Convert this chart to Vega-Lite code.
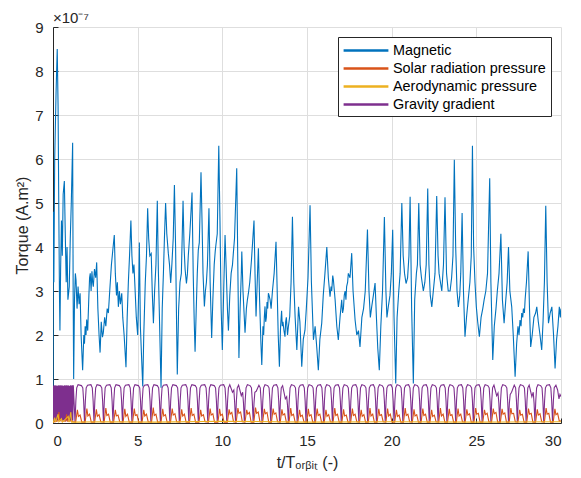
{
  "$schema": "https://vega.github.io/schema/vega-lite/v6.json",
  "width": 508,
  "height": 396,
  "autosize": {"type": "none"},
  "padding": {"left": 53, "top": 27, "right": 20, "bottom": 55},
  "background": "white",
  "title": {"text": "×10⁻⁷", "anchor": "start", "frame": "group", "fontSize": 15, "fontWeight": "normal", "color": "#262626", "offset": -6, "font": "Liberation Sans"},
  "datasets": {
    "mag": [
      {"t":0.00,"v":0.0},{"t":0.02,"v":4.8},{"t":0.05,"v":3.2},{"t":0.10,"v":6.0},{"t":0.18,"v":7.5},{"t":0.25,"v":8.5},{"t":0.30,"v":7.2},{"t":0.34,"v":5.0},{"t":0.38,"v":3.0},{"t":0.41,"v":2.1},{"t":0.45,"v":3.5},{"t":0.50,"v":4.6},{"t":0.55,"v":3.8},{"t":0.60,"v":5.2},{"t":0.67,"v":5.5},{"t":0.72,"v":4.4},{"t":0.78,"v":3.2},{"t":0.83,"v":4.0},{"t":0.88,"v":2.8},{"t":0.96,"v":3.1},{"t":1.02,"v":4.2},{"t":1.08,"v":5.0},{"t":1.16,"v":6.37},{"t":1.19,"v":3.0},{"t":1.22,"v":1.0},{"t":1.27,"v":2.8},{"t":1.32,"v":3.4},{"t":1.36,"v":3.25},{"t":1.42,"v":2.6},{"t":1.48,"v":3.1},{"t":1.54,"v":2.7},{"t":1.60,"v":2.95},{"t":1.66,"v":2.0},{"t":1.75,"v":1.2},{"t":1.82,"v":2.0},{"t":1.86,"v":1.8},{"t":1.90,"v":2.2},{"t":1.95,"v":2.0},{"t":1.99,"v":2.35},{"t":2.05,"v":2.1},{"t":2.12,"v":2.9},{"t":2.16,"v":3.3},{"t":2.20,"v":3.4},{"t":2.25,"v":3.0},{"t":2.30,"v":3.45},{"t":2.34,"v":3.2},{"t":2.38,"v":3.1},{"t":2.45,"v":3.5},{"t":2.52,"v":3.3},{"t":2.58,"v":3.65},{"t":2.65,"v":2.6},{"t":2.72,"v":2.0},{"t":2.78,"v":1.6},{"t":2.85,"v":2.3},{"t":2.92,"v":1.95},{"t":2.97,"v":2.05},{"t":3.05,"v":2.4},{"t":3.12,"v":2.2},{"t":3.20,"v":2.6},{"t":3.27,"v":2.5},{"t":3.35,"v":3.0},{"t":3.45,"v":3.6},{"t":3.55,"v":4.0},{"t":3.62,"v":4.27},{"t":3.68,"v":3.4},{"t":3.75,"v":2.9},{"t":3.80,"v":3.2},{"t":3.86,"v":2.64},{"t":3.92,"v":3.0},{"t":3.98,"v":2.7},{"t":4.06,"v":2.95},{"t":4.12,"v":2.4},{"t":4.20,"v":2.0},{"t":4.31,"v":1.27},{"t":4.38,"v":2.4},{"t":4.45,"v":3.2},{"t":4.52,"v":3.8},{"t":4.60,"v":4.6},{"t":4.66,"v":3.8},{"t":4.72,"v":3.4},{"t":4.78,"v":3.6},{"t":4.84,"v":3.1},{"t":4.92,"v":2.4},{"t":5.00,"v":2.0},{"t":5.06,"v":3.0},{"t":5.10,"v":4.1},{"t":5.16,"v":2.2},{"t":5.22,"v":1.6},{"t":5.30,"v":0.83},{"t":5.36,"v":2.0},{"t":5.45,"v":3.2},{"t":5.52,"v":3.8},{"t":5.59,"v":4.88},{"t":5.65,"v":4.2},{"t":5.72,"v":3.8},{"t":5.80,"v":3.85},{"t":5.86,"v":3.0},{"t":5.93,"v":2.27},{"t":6.00,"v":3.0},{"t":6.08,"v":3.6},{"t":6.16,"v":5.05},{"t":6.22,"v":3.5},{"t":6.28,"v":2.5},{"t":6.38,"v":0.8},{"t":6.45,"v":2.6},{"t":6.52,"v":3.4},{"t":6.58,"v":4.2},{"t":6.65,"v":5.0},{"t":6.72,"v":4.3},{"t":6.81,"v":3.86},{"t":6.88,"v":3.6},{"t":6.95,"v":3.18},{"t":7.02,"v":3.6},{"t":7.10,"v":4.2},{"t":7.17,"v":5.41},{"t":7.24,"v":4.0},{"t":7.30,"v":2.2},{"t":7.34,"v":1.1},{"t":7.42,"v":2.6},{"t":7.50,"v":3.2},{"t":7.58,"v":3.4},{"t":7.68,"v":5.05},{"t":7.74,"v":4.0},{"t":7.80,"v":3.5},{"t":7.88,"v":3.17},{"t":7.94,"v":3.4},{"t":7.99,"v":3.8},{"t":8.08,"v":4.3},{"t":8.21,"v":5.24},{"t":8.28,"v":3.4},{"t":8.34,"v":2.3},{"t":8.39,"v":1.62},{"t":8.46,"v":2.6},{"t":8.52,"v":3.4},{"t":8.58,"v":3.93},{"t":8.64,"v":4.1},{"t":8.74,"v":5.7},{"t":8.80,"v":4.6},{"t":8.86,"v":3.4},{"t":8.94,"v":2.65},{"t":9.00,"v":3.0},{"t":9.06,"v":3.2},{"t":9.12,"v":3.6},{"t":9.21,"v":4.88},{"t":9.28,"v":3.2},{"t":9.37,"v":1.93},{"t":9.44,"v":2.8},{"t":9.52,"v":3.6},{"t":9.58,"v":3.9},{"t":9.63,"v":4.08},{"t":9.70,"v":4.3},{"t":9.79,"v":6.3},{"t":9.86,"v":4.6},{"t":9.93,"v":2.6},{"t":10.00,"v":1.66},{"t":10.08,"v":3.0},{"t":10.16,"v":4.27},{"t":10.22,"v":3.6},{"t":10.30,"v":2.6},{"t":10.36,"v":2.1},{"t":10.44,"v":2.9},{"t":10.52,"v":3.4},{"t":10.60,"v":3.6},{"t":10.65,"v":3.86},{"t":10.72,"v":4.2},{"t":10.85,"v":5.79},{"t":10.92,"v":3.4},{"t":10.98,"v":1.48},{"t":11.05,"v":2.6},{"t":11.12,"v":3.4},{"t":11.15,"v":3.9},{"t":11.22,"v":3.0},{"t":11.34,"v":2.05},{"t":11.42,"v":2.6},{"t":11.48,"v":2.8},{"t":11.54,"v":2.95},{"t":11.62,"v":3.2},{"t":11.72,"v":3.7},{"t":11.87,"v":4.6},{"t":11.93,"v":3.4},{"t":11.99,"v":2.42},{"t":12.06,"v":3.2},{"t":12.13,"v":3.97},{"t":12.20,"v":2.8},{"t":12.28,"v":1.8},{"t":12.33,"v":1.32},{"t":12.40,"v":2.2},{"t":12.44,"v":2.0},{"t":12.48,"v":2.4},{"t":12.52,"v":2.65},{"t":12.56,"v":2.3},{"t":12.60,"v":2.4},{"t":12.64,"v":2.75},{"t":12.68,"v":2.6},{"t":12.72,"v":2.95},{"t":12.76,"v":2.9},{"t":12.82,"v":2.8},{"t":12.88,"v":2.6},{"t":12.96,"v":3.0},{"t":13.06,"v":3.4},{"t":13.17,"v":4.12},{"t":13.24,"v":3.0},{"t":13.30,"v":2.0},{"t":13.37,"v":1.28},{"t":13.44,"v":2.2},{"t":13.50,"v":2.55},{"t":13.54,"v":2.2},{"t":13.58,"v":2.3},{"t":13.64,"v":2.1},{"t":13.70,"v":1.96},{"t":13.74,"v":2.3},{"t":13.78,"v":2.4},{"t":13.85,"v":2.0},{"t":13.90,"v":2.19},{"t":13.98,"v":2.42},{"t":14.06,"v":3.2},{"t":14.14,"v":4.69},{"t":14.22,"v":3.2},{"t":14.30,"v":2.4},{"t":14.40,"v":1.66},{"t":14.50,"v":2.64},{"t":14.58,"v":2.3},{"t":14.69,"v":1.28},{"t":14.78,"v":1.9},{"t":14.88,"v":2.11},{"t":14.96,"v":2.6},{"t":15.06,"v":3.3},{"t":15.18,"v":4.95},{"t":15.26,"v":3.2},{"t":15.38,"v":1.89},{"t":15.48,"v":2.2},{"t":15.58,"v":1.7},{"t":15.67,"v":1.2},{"t":15.76,"v":1.9},{"t":15.87,"v":2.27},{"t":15.96,"v":2.9},{"t":16.06,"v":3.4},{"t":16.17,"v":4.0},{"t":16.26,"v":3.3},{"t":16.36,"v":2.87},{"t":16.42,"v":3.1},{"t":16.46,"v":3.0},{"t":16.52,"v":3.35},{"t":16.56,"v":3.25},{"t":16.66,"v":2.8},{"t":16.76,"v":2.2},{"t":16.85,"v":1.89},{"t":16.95,"v":2.4},{"t":17.05,"v":2.8},{"t":17.10,"v":2.5},{"t":17.15,"v":2.6},{"t":17.20,"v":2.9},{"t":17.25,"v":3.0},{"t":17.30,"v":2.8},{"t":17.34,"v":3.1},{"t":17.40,"v":3.2},{"t":17.44,"v":3.4},{"t":17.54,"v":3.3},{"t":17.64,"v":3.86},{"t":17.72,"v":3.0},{"t":17.84,"v":2.34},{"t":17.94,"v":2.0},{"t":18.04,"v":2.1},{"t":18.13,"v":1.73},{"t":18.24,"v":2.4},{"t":18.34,"v":2.6},{"t":18.44,"v":3.0},{"t":18.57,"v":4.4},{"t":18.66,"v":3.0},{"t":18.74,"v":2.4},{"t":18.82,"v":2.64},{"t":18.92,"v":2.9},{"t":19.02,"v":3.18},{"t":19.10,"v":2.4},{"t":19.18,"v":1.7},{"t":19.27,"v":1.2},{"t":19.36,"v":2.2},{"t":19.46,"v":3.0},{"t":19.57,"v":4.68},{"t":19.66,"v":3.0},{"t":19.72,"v":2.4},{"t":19.80,"v":2.64},{"t":19.90,"v":2.9},{"t":19.98,"v":3.4},{"t":20.06,"v":4.39},{"t":20.14,"v":2.4},{"t":20.24,"v":0.9},{"t":20.32,"v":2.4},{"t":20.42,"v":3.0},{"t":20.50,"v":3.4},{"t":20.60,"v":5.0},{"t":20.68,"v":3.8},{"t":20.76,"v":3.4},{"t":20.85,"v":3.17},{"t":20.94,"v":3.3},{"t":21.02,"v":3.8},{"t":21.09,"v":5.14},{"t":21.18,"v":2.6},{"t":21.28,"v":0.9},{"t":21.36,"v":2.8},{"t":21.46,"v":3.4},{"t":21.52,"v":3.6},{"t":21.60,"v":5.0},{"t":21.68,"v":3.6},{"t":21.76,"v":3.3},{"t":21.87,"v":3.0},{"t":21.96,"v":3.2},{"t":22.04,"v":3.6},{"t":22.13,"v":5.33},{"t":22.20,"v":3.6},{"t":22.28,"v":2.9},{"t":22.37,"v":2.64},{"t":22.46,"v":3.0},{"t":22.56,"v":3.4},{"t":22.66,"v":5.16},{"t":22.74,"v":3.8},{"t":22.80,"v":3.4},{"t":22.86,"v":3.25},{"t":22.96,"v":3.0},{"t":23.06,"v":3.6},{"t":23.15,"v":5.13},{"t":23.24,"v":3.4},{"t":23.34,"v":3.0},{"t":23.45,"v":3.0},{"t":23.54,"v":3.3},{"t":23.62,"v":3.8},{"t":23.70,"v":5.98},{"t":23.78,"v":4.0},{"t":23.86,"v":3.0},{"t":23.94,"v":2.64},{"t":24.02,"v":2.9},{"t":24.08,"v":3.4},{"t":24.16,"v":4.77},{"t":24.24,"v":3.0},{"t":24.33,"v":1.96},{"t":24.42,"v":2.4},{"t":24.52,"v":2.8},{"t":24.62,"v":3.2},{"t":24.70,"v":3.8},{"t":24.77,"v":6.3},{"t":24.84,"v":4.0},{"t":24.92,"v":3.2},{"t":25.00,"v":2.64},{"t":25.08,"v":2.3},{"t":25.18,"v":1.96},{"t":25.28,"v":2.4},{"t":25.38,"v":2.6},{"t":25.46,"v":2.8},{"t":25.56,"v":3.0},{"t":25.66,"v":3.4},{"t":25.79,"v":5.56},{"t":25.86,"v":3.2},{"t":25.97,"v":1.43},{"t":26.06,"v":2.2},{"t":26.16,"v":2.6},{"t":26.24,"v":3.0},{"t":26.34,"v":3.4},{"t":26.45,"v":4.3},{"t":26.54,"v":2.8},{"t":26.64,"v":2.27},{"t":26.74,"v":2.8},{"t":26.82,"v":3.2},{"t":26.90,"v":4.0},{"t":26.98,"v":3.0},{"t":27.09,"v":2.64},{"t":27.18,"v":2.0},{"t":27.29,"v":1.05},{"t":27.38,"v":1.8},{"t":27.46,"v":2.2},{"t":27.52,"v":2.0},{"t":27.58,"v":2.34},{"t":27.64,"v":2.2},{"t":27.68,"v":2.5},{"t":27.74,"v":2.4},{"t":27.78,"v":2.6},{"t":27.84,"v":2.5},{"t":27.88,"v":2.8},{"t":27.96,"v":3.2},{"t":28.06,"v":3.9},{"t":28.14,"v":2.6},{"t":28.21,"v":1.73},{"t":28.30,"v":2.0},{"t":28.40,"v":2.4},{"t":28.50,"v":2.5},{"t":28.57,"v":2.64},{"t":28.66,"v":2.3},{"t":28.76,"v":2.0},{"t":28.86,"v":1.66},{"t":28.94,"v":2.3},{"t":29.02,"v":3.2},{"t":29.10,"v":4.94},{"t":29.18,"v":3.2},{"t":29.26,"v":2.27},{"t":29.36,"v":2.5},{"t":29.46,"v":2.64},{"t":29.56,"v":2.0},{"t":29.65,"v":1.24},{"t":29.74,"v":1.9},{"t":29.82,"v":2.2},{"t":29.90,"v":2.64},{"t":29.96,"v":2.4},{"t":30.00,"v":2.6}
    ],
    "grav": [
      {"t":0.00,"v":0.84},{"t":0.03,"v":0.06},{"t":0.06,"v":0.86},{"t":0.09,"v":0.05},{"t":0.12,"v":0.85},{"t":0.15,"v":0.07},{"t":0.18,"v":0.86},{"t":0.21,"v":0.05},{"t":0.24,"v":0.84},{"t":0.27,"v":0.06},{"t":0.30,"v":0.86},{"t":0.33,"v":0.05},{"t":0.36,"v":0.85},{"t":0.39,"v":0.06},{"t":0.42,"v":0.86},{"t":0.45,"v":0.05},{"t":0.48,"v":0.85},{"t":0.51,"v":0.07},{"t":0.54,"v":0.86},{"t":0.57,"v":0.05},{"t":0.60,"v":0.84},{"t":0.63,"v":0.06},{"t":0.66,"v":0.86},{"t":0.69,"v":0.05},{"t":0.72,"v":0.85},{"t":0.75,"v":0.06},{"t":0.78,"v":0.86},{"t":0.81,"v":0.05},{"t":0.84,"v":0.85},{"t":0.87,"v":0.07},{"t":0.90,"v":0.86},{"t":0.93,"v":0.05},{"t":0.96,"v":0.84},{"t":0.99,"v":0.06},{"t":1.02,"v":0.86},{"t":1.05,"v":0.05},{"t":1.08,"v":0.85},{"t":1.11,"v":0.06},{"t":1.14,"v":0.86},{"t":1.17,"v":0.05},{"t":1.20,"v":0.86},
      {"t":1.30,"v":0.02},{"t":1.35,"v":0.5},{"t":1.40,"v":0.8},{"t":1.48,"v":0.87},{"t":1.68,"v":0.85},{"t":1.76,"v":0.8},{"t":1.81,"v":0.5},
      {"t":1.86,"v":0.02},{"t":1.91,"v":0.5},{"t":1.96,"v":0.8},{"t":2.04,"v":0.86},{"t":2.24,"v":0.87},{"t":2.32,"v":0.8},{"t":2.37,"v":0.5},
      {"t":2.42,"v":0.02},{"t":2.47,"v":0.5},{"t":2.52,"v":0.8},{"t":2.60,"v":0.87},{"t":2.80,"v":0.85},{"t":2.88,"v":0.8},{"t":2.93,"v":0.5},
      {"t":2.98,"v":0.02},{"t":3.03,"v":0.5},{"t":3.08,"v":0.8},{"t":3.16,"v":0.86},{"t":3.36,"v":0.87},{"t":3.44,"v":0.8},{"t":3.49,"v":0.5},
      {"t":3.54,"v":0.02},{"t":3.59,"v":0.5},{"t":3.64,"v":0.8},{"t":3.72,"v":0.87},{"t":3.92,"v":0.85},{"t":4.00,"v":0.8},{"t":4.05,"v":0.5},
      {"t":4.10,"v":0.02},{"t":4.15,"v":0.5},{"t":4.20,"v":0.8},{"t":4.28,"v":0.86},{"t":4.48,"v":0.87},{"t":4.56,"v":0.8},{"t":4.61,"v":0.5},
      {"t":4.66,"v":0.02},{"t":4.71,"v":0.5},{"t":4.76,"v":0.8},{"t":4.84,"v":0.87},{"t":5.04,"v":0.85},{"t":5.12,"v":0.8},{"t":5.17,"v":0.5},
      {"t":5.22,"v":0.02},{"t":5.27,"v":0.5},{"t":5.32,"v":0.8},{"t":5.40,"v":0.86},{"t":5.60,"v":0.87},{"t":5.68,"v":0.8},{"t":5.73,"v":0.5},
      {"t":5.78,"v":0.02},{"t":5.83,"v":0.5},{"t":5.88,"v":0.8},{"t":5.96,"v":0.87},{"t":6.16,"v":0.85},{"t":6.24,"v":0.8},{"t":6.29,"v":0.5},
      {"t":6.34,"v":0.02},{"t":6.39,"v":0.5},{"t":6.44,"v":0.8},{"t":6.52,"v":0.86},{"t":6.72,"v":0.87},{"t":6.80,"v":0.8},{"t":6.85,"v":0.5},
      {"t":6.90,"v":0.02},{"t":6.95,"v":0.5},{"t":7.00,"v":0.8},{"t":7.08,"v":0.87},{"t":7.28,"v":0.85},{"t":7.36,"v":0.8},{"t":7.41,"v":0.5},
      {"t":7.46,"v":0.02},{"t":7.51,"v":0.5},{"t":7.56,"v":0.8},{"t":7.64,"v":0.86},{"t":7.84,"v":0.87},{"t":7.92,"v":0.8},{"t":7.97,"v":0.5},
      {"t":8.02,"v":0.02},{"t":8.07,"v":0.5},{"t":8.12,"v":0.8},{"t":8.20,"v":0.87},{"t":8.40,"v":0.85},{"t":8.48,"v":0.8},{"t":8.53,"v":0.5},
      {"t":8.58,"v":0.02},{"t":8.63,"v":0.5},{"t":8.68,"v":0.8},{"t":8.76,"v":0.86},{"t":8.96,"v":0.87},{"t":9.04,"v":0.8},{"t":9.09,"v":0.5},
      {"t":9.14,"v":0.02},{"t":9.19,"v":0.5},{"t":9.24,"v":0.8},{"t":9.32,"v":0.87},{"t":9.52,"v":0.85},{"t":9.60,"v":0.8},{"t":9.65,"v":0.5},
      {"t":9.70,"v":0.02},{"t":9.75,"v":0.5},{"t":9.80,"v":0.8},{"t":9.88,"v":0.86},{"t":10.08,"v":0.87},{"t":10.16,"v":0.8},{"t":10.21,"v":0.5},
      {"t":10.26,"v":0.02},{"t":10.31,"v":0.5},{"t":10.36,"v":0.8},{"t":10.44,"v":0.87},{"t":10.60,"v":0.7},{"t":10.68,"v":0.75},{"t":10.73,"v":0.45},
      {"t":10.78,"v":0.02},{"t":10.83,"v":0.5},{"t":10.88,"v":0.8},{"t":10.96,"v":0.86},{"t":11.12,"v":0.62},{"t":11.20,"v":0.7},{"t":11.25,"v":0.45},
      {"t":11.30,"v":0.02},{"t":11.35,"v":0.5},{"t":11.40,"v":0.8},{"t":11.48,"v":0.87},{"t":11.64,"v":0.85},{"t":11.72,"v":0.8},{"t":11.77,"v":0.5},
      {"t":11.82,"v":0.02},{"t":11.87,"v":0.45},{"t":11.92,"v":0.7},{"t":12.00,"v":0.72},{"t":12.16,"v":0.86},{"t":12.24,"v":0.8},{"t":12.29,"v":0.5},
      {"t":12.34,"v":0.02},{"t":12.39,"v":0.5},{"t":12.44,"v":0.8},{"t":12.52,"v":0.87},{"t":12.68,"v":0.85},{"t":12.76,"v":0.8},{"t":12.81,"v":0.5},
      {"t":12.86,"v":0.02},{"t":12.91,"v":0.5},{"t":12.96,"v":0.8},{"t":13.04,"v":0.86},{"t":13.20,"v":0.87},{"t":13.28,"v":0.8},{"t":13.33,"v":0.5},
      {"t":13.38,"v":0.02},{"t":13.43,"v":0.5},{"t":13.48,"v":0.8},{"t":13.56,"v":0.85},{"t":13.72,"v":0.55},{"t":13.80,"v":0.6},{"t":13.85,"v":0.4},
      {"t":13.90,"v":0.02},{"t":13.95,"v":0.5},{"t":14.00,"v":0.8},{"t":14.08,"v":0.87},{"t":14.24,"v":0.85},{"t":14.32,"v":0.8},{"t":14.37,"v":0.5},
      {"t":14.42,"v":0.02},{"t":14.47,"v":0.5},{"t":14.52,"v":0.8},{"t":14.60,"v":0.86},{"t":14.76,"v":0.87},{"t":14.84,"v":0.8},{"t":14.89,"v":0.5},
      {"t":14.94,"v":0.02},{"t":14.99,"v":0.5},{"t":15.04,"v":0.8},{"t":15.12,"v":0.87},{"t":15.28,"v":0.85},{"t":15.36,"v":0.8},{"t":15.41,"v":0.5},
      {"t":15.46,"v":0.02},{"t":15.51,"v":0.5},{"t":15.56,"v":0.8},{"t":15.64,"v":0.86},{"t":15.80,"v":0.87},{"t":15.88,"v":0.8},{"t":15.93,"v":0.5},
      {"t":15.98,"v":0.02},{"t":16.03,"v":0.5},{"t":16.08,"v":0.8},{"t":16.16,"v":0.87},{"t":16.32,"v":0.85},{"t":16.40,"v":0.8},{"t":16.45,"v":0.5},
      {"t":16.50,"v":0.02},{"t":16.55,"v":0.5},{"t":16.60,"v":0.8},{"t":16.68,"v":0.86},{"t":16.84,"v":0.87},{"t":16.92,"v":0.8},{"t":16.97,"v":0.5},
      {"t":17.02,"v":0.02},{"t":17.07,"v":0.5},{"t":17.12,"v":0.8},{"t":17.20,"v":0.87},{"t":17.36,"v":0.85},{"t":17.44,"v":0.8},{"t":17.49,"v":0.5},
      {"t":17.54,"v":0.02},{"t":17.59,"v":0.5},{"t":17.64,"v":0.8},{"t":17.72,"v":0.86},{"t":17.88,"v":0.87},{"t":17.96,"v":0.8},{"t":18.01,"v":0.5},
      {"t":18.06,"v":0.02},{"t":18.11,"v":0.5},{"t":18.16,"v":0.8},{"t":18.24,"v":0.87},{"t":18.40,"v":0.85},{"t":18.48,"v":0.8},{"t":18.53,"v":0.5},
      {"t":18.58,"v":0.02},{"t":18.63,"v":0.5},{"t":18.68,"v":0.8},{"t":18.76,"v":0.86},{"t":18.92,"v":0.87},{"t":19.00,"v":0.8},{"t":19.05,"v":0.5},
      {"t":19.10,"v":0.02},{"t":19.15,"v":0.5},{"t":19.20,"v":0.8},{"t":19.28,"v":0.87},{"t":19.44,"v":0.85},{"t":19.52,"v":0.8},{"t":19.57,"v":0.5},
      {"t":19.62,"v":0.02},{"t":19.67,"v":0.5},{"t":19.72,"v":0.8},{"t":19.80,"v":0.86},{"t":19.96,"v":0.87},{"t":20.04,"v":0.8},{"t":20.09,"v":0.5},
      {"t":20.14,"v":0.02},{"t":20.19,"v":0.5},{"t":20.24,"v":0.8},{"t":20.32,"v":0.87},{"t":20.48,"v":0.85},{"t":20.56,"v":0.8},{"t":20.61,"v":0.5},
      {"t":20.66,"v":0.02},{"t":20.71,"v":0.5},{"t":20.76,"v":0.8},{"t":20.84,"v":0.86},{"t":21.00,"v":0.87},{"t":21.08,"v":0.8},{"t":21.13,"v":0.5},
      {"t":21.18,"v":0.02},{"t":21.23,"v":0.5},{"t":21.28,"v":0.8},{"t":21.36,"v":0.87},{"t":21.52,"v":0.85},{"t":21.60,"v":0.8},{"t":21.65,"v":0.5},
      {"t":21.70,"v":0.02},{"t":21.75,"v":0.5},{"t":21.80,"v":0.8},{"t":21.88,"v":0.86},{"t":22.04,"v":0.87},{"t":22.12,"v":0.8},{"t":22.17,"v":0.5},
      {"t":22.22,"v":0.02},{"t":22.27,"v":0.5},{"t":22.32,"v":0.8},{"t":22.40,"v":0.87},{"t":22.56,"v":0.85},{"t":22.64,"v":0.8},{"t":22.69,"v":0.5},
      {"t":22.74,"v":0.02},{"t":22.79,"v":0.5},{"t":22.84,"v":0.8},{"t":22.92,"v":0.86},{"t":23.08,"v":0.87},{"t":23.16,"v":0.8},{"t":23.21,"v":0.5},
      {"t":23.26,"v":0.02},{"t":23.31,"v":0.5},{"t":23.36,"v":0.8},{"t":23.44,"v":0.87},{"t":23.60,"v":0.85},{"t":23.68,"v":0.8},{"t":23.73,"v":0.5},
      {"t":23.78,"v":0.02},{"t":23.83,"v":0.5},{"t":23.88,"v":0.8},{"t":23.96,"v":0.86},{"t":24.12,"v":0.87},{"t":24.20,"v":0.8},{"t":24.25,"v":0.5},
      {"t":24.30,"v":0.02},{"t":24.35,"v":0.5},{"t":24.40,"v":0.8},{"t":24.48,"v":0.87},{"t":24.64,"v":0.85},{"t":24.72,"v":0.8},{"t":24.77,"v":0.5},
      {"t":24.82,"v":0.02},{"t":24.87,"v":0.5},{"t":24.92,"v":0.8},{"t":25.00,"v":0.86},{"t":25.16,"v":0.87},{"t":25.24,"v":0.8},{"t":25.29,"v":0.5},
      {"t":25.34,"v":0.02},{"t":25.39,"v":0.5},{"t":25.44,"v":0.8},{"t":25.52,"v":0.87},{"t":25.68,"v":0.85},{"t":25.76,"v":0.8},{"t":25.81,"v":0.5},
      {"t":25.86,"v":0.02},{"t":25.91,"v":0.5},{"t":25.96,"v":0.8},{"t":26.04,"v":0.86},{"t":26.20,"v":0.62},{"t":26.28,"v":0.68},{"t":26.33,"v":0.45},
      {"t":26.38,"v":0.02},{"t":26.43,"v":0.5},{"t":26.48,"v":0.8},{"t":26.56,"v":0.87},{"t":26.72,"v":0.85},{"t":26.80,"v":0.8},{"t":26.85,"v":0.5},
      {"t":26.90,"v":0.02},{"t":26.95,"v":0.45},{"t":27.00,"v":0.65},{"t":27.08,"v":0.7},{"t":27.24,"v":0.86},{"t":27.32,"v":0.8},{"t":27.37,"v":0.5},
      {"t":27.42,"v":0.02},{"t":27.47,"v":0.5},{"t":27.52,"v":0.8},{"t":27.60,"v":0.87},{"t":27.76,"v":0.85},{"t":27.84,"v":0.8},{"t":27.89,"v":0.5},
      {"t":27.94,"v":0.02},{"t":27.99,"v":0.5},{"t":28.04,"v":0.8},{"t":28.12,"v":0.86},{"t":28.28,"v":0.6},{"t":28.36,"v":0.7},{"t":28.41,"v":0.45},
      {"t":28.46,"v":0.02},{"t":28.51,"v":0.5},{"t":28.56,"v":0.8},{"t":28.64,"v":0.87},{"t":28.80,"v":0.85},{"t":28.88,"v":0.8},{"t":28.93,"v":0.5},
      {"t":28.98,"v":0.02},{"t":29.03,"v":0.5},{"t":29.08,"v":0.8},{"t":29.16,"v":0.86},{"t":29.32,"v":0.87},{"t":29.40,"v":0.8},{"t":29.45,"v":0.5},
      {"t":29.50,"v":0.02},{"t":29.55,"v":0.5},{"t":29.60,"v":0.8},{"t":29.70,"v":0.86},{"t":29.80,"v":0.75},{"t":29.88,"v":0.55},{"t":29.94,"v":0.65},{"t":30.00,"v":0.6}
    ],
    "solar": [
      {"t":0.00,"v":0.02},{"t":0.30,"v":0.05},{"t":0.35,"v":0.25},{"t":0.40,"v":0.05},{"t":0.75,"v":0.04},{"t":0.80,"v":0.2},{"t":0.85,"v":0.04},{"t":1.10,"v":0.05},{"t":1.20,"v":0.03},
      {"t":1.34,"v":0.02},{"t":1.44,"v":0.3},{"t":1.50,"v":0.15},{"t":1.60,"v":0.18},{"t":1.70,"v":0.02},
      {"t":1.90,"v":0.02},{"t":2.00,"v":0.33},{"t":2.06,"v":0.16},{"t":2.16,"v":0.2},{"t":2.26,"v":0.02},
      {"t":2.46,"v":0.02},{"t":2.56,"v":0.31},{"t":2.62,"v":0.15},{"t":2.72,"v":0.19},{"t":2.82,"v":0.03},
      {"t":3.02,"v":0.02},{"t":3.12,"v":0.34},{"t":3.18,"v":0.17},{"t":3.28,"v":0.2},{"t":3.38,"v":0.02},
      {"t":3.58,"v":0.02},{"t":3.68,"v":0.3},{"t":3.74,"v":0.16},{"t":3.84,"v":0.18},{"t":3.94,"v":0.03},
      {"t":4.14,"v":0.02},{"t":4.24,"v":0.32},{"t":4.30,"v":0.15},{"t":4.40,"v":0.2},{"t":4.50,"v":0.02},
      {"t":4.70,"v":0.02},{"t":4.80,"v":0.33},{"t":4.86,"v":0.17},{"t":4.96,"v":0.19},{"t":5.06,"v":0.02},
      {"t":5.26,"v":0.02},{"t":5.36,"v":0.3},{"t":5.42,"v":0.16},{"t":5.52,"v":0.2},{"t":5.62,"v":0.03},
      {"t":5.82,"v":0.02},{"t":5.92,"v":0.35},{"t":5.98,"v":0.17},{"t":6.08,"v":0.2},{"t":6.18,"v":0.02},
      {"t":6.38,"v":0.02},{"t":6.48,"v":0.32},{"t":6.54,"v":0.16},{"t":6.64,"v":0.19},{"t":6.74,"v":0.02},
      {"t":6.94,"v":0.02},{"t":7.04,"v":0.33},{"t":7.10,"v":0.18},{"t":7.20,"v":0.21},{"t":7.30,"v":0.03},
      {"t":7.50,"v":0.02},{"t":7.60,"v":0.31},{"t":7.66,"v":0.16},{"t":7.76,"v":0.2},{"t":7.86,"v":0.02},
      {"t":8.06,"v":0.02},{"t":8.16,"v":0.34},{"t":8.22,"v":0.17},{"t":8.32,"v":0.2},{"t":8.42,"v":0.02},
      {"t":8.62,"v":0.02},{"t":8.72,"v":0.3},{"t":8.78,"v":0.16},{"t":8.88,"v":0.19},{"t":8.98,"v":0.03},
      {"t":9.18,"v":0.02},{"t":9.28,"v":0.33},{"t":9.34,"v":0.18},{"t":9.44,"v":0.21},{"t":9.54,"v":0.02},
      {"t":9.74,"v":0.02},{"t":9.84,"v":0.32},{"t":9.90,"v":0.17},{"t":10.00,"v":0.2},{"t":10.10,"v":0.02},
      {"t":10.30,"v":0.02},{"t":10.40,"v":0.31},{"t":10.46,"v":0.2},{"t":10.56,"v":0.24},{"t":10.66,"v":0.03},
      {"t":10.82,"v":0.02},{"t":10.92,"v":0.34},{"t":10.98,"v":0.22},{"t":11.08,"v":0.25},{"t":11.18,"v":0.03},
      {"t":11.34,"v":0.02},{"t":11.44,"v":0.3},{"t":11.50,"v":0.2},{"t":11.60,"v":0.24},{"t":11.70,"v":0.02},
      {"t":11.86,"v":0.02},{"t":11.96,"v":0.35},{"t":12.02,"v":0.22},{"t":12.12,"v":0.25},{"t":12.22,"v":0.03},
      {"t":12.38,"v":0.02},{"t":12.48,"v":0.32},{"t":12.54,"v":0.21},{"t":12.64,"v":0.24},{"t":12.74,"v":0.02},
      {"t":12.90,"v":0.02},{"t":13.00,"v":0.33},{"t":13.06,"v":0.2},{"t":13.16,"v":0.23},{"t":13.26,"v":0.03},
      {"t":13.42,"v":0.02},{"t":13.52,"v":0.31},{"t":13.58,"v":0.18},{"t":13.68,"v":0.21},{"t":13.78,"v":0.02},
      {"t":13.94,"v":0.02},{"t":14.04,"v":0.34},{"t":14.10,"v":0.17},{"t":14.20,"v":0.2},{"t":14.30,"v":0.02},
      {"t":14.46,"v":0.02},{"t":14.56,"v":0.3},{"t":14.62,"v":0.15},{"t":14.72,"v":0.18},{"t":14.82,"v":0.03},
      {"t":14.98,"v":0.02},{"t":15.08,"v":0.32},{"t":15.14,"v":0.16},{"t":15.24,"v":0.19},{"t":15.34,"v":0.02},
      {"t":15.50,"v":0.02},{"t":15.60,"v":0.33},{"t":15.66,"v":0.17},{"t":15.76,"v":0.2},{"t":15.86,"v":0.02},
      {"t":16.02,"v":0.02},{"t":16.12,"v":0.3},{"t":16.18,"v":0.15},{"t":16.28,"v":0.19},{"t":16.38,"v":0.03},
      {"t":16.54,"v":0.02},{"t":16.64,"v":0.34},{"t":16.70,"v":0.17},{"t":16.80,"v":0.2},{"t":16.90,"v":0.02},
      {"t":17.06,"v":0.02},{"t":17.16,"v":0.31},{"t":17.22,"v":0.16},{"t":17.32,"v":0.18},{"t":17.42,"v":0.02},
      {"t":17.58,"v":0.02},{"t":17.68,"v":0.33},{"t":17.74,"v":0.17},{"t":17.84,"v":0.2},{"t":17.94,"v":0.03},
      {"t":18.10,"v":0.02},{"t":18.20,"v":0.3},{"t":18.26,"v":0.15},{"t":18.36,"v":0.19},{"t":18.46,"v":0.02},
      {"t":18.62,"v":0.02},{"t":18.72,"v":0.34},{"t":18.78,"v":0.16},{"t":18.88,"v":0.2},{"t":18.98,"v":0.02},
      {"t":19.14,"v":0.02},{"t":19.24,"v":0.32},{"t":19.30,"v":0.17},{"t":19.40,"v":0.19},{"t":19.50,"v":0.03},
      {"t":19.66,"v":0.02},{"t":19.76,"v":0.33},{"t":19.82,"v":0.16},{"t":19.92,"v":0.2},{"t":20.02,"v":0.02},
      {"t":20.18,"v":0.02},{"t":20.28,"v":0.3},{"t":20.34,"v":0.15},{"t":20.44,"v":0.18},{"t":20.54,"v":0.02},
      {"t":20.70,"v":0.02},{"t":20.80,"v":0.34},{"t":20.86,"v":0.17},{"t":20.96,"v":0.2},{"t":21.06,"v":0.03},
      {"t":21.22,"v":0.02},{"t":21.32,"v":0.31},{"t":21.38,"v":0.16},{"t":21.48,"v":0.19},{"t":21.58,"v":0.02},
      {"t":21.74,"v":0.02},{"t":21.84,"v":0.33},{"t":21.90,"v":0.17},{"t":22.00,"v":0.2},{"t":22.10,"v":0.02},
      {"t":22.26,"v":0.02},{"t":22.36,"v":0.3},{"t":22.42,"v":0.15},{"t":22.52,"v":0.18},{"t":22.62,"v":0.03},
      {"t":22.78,"v":0.02},{"t":22.88,"v":0.34},{"t":22.94,"v":0.16},{"t":23.04,"v":0.2},{"t":23.14,"v":0.02},
      {"t":23.30,"v":0.02},{"t":23.40,"v":0.32},{"t":23.46,"v":0.17},{"t":23.56,"v":0.19},{"t":23.66,"v":0.02},
      {"t":23.82,"v":0.02},{"t":23.92,"v":0.33},{"t":23.98,"v":0.16},{"t":24.08,"v":0.2},{"t":24.18,"v":0.03},
      {"t":24.34,"v":0.02},{"t":24.44,"v":0.31},{"t":24.50,"v":0.18},{"t":24.60,"v":0.21},{"t":24.70,"v":0.02},
      {"t":24.86,"v":0.02},{"t":24.96,"v":0.34},{"t":25.02,"v":0.2},{"t":25.12,"v":0.22},{"t":25.22,"v":0.02},
      {"t":25.38,"v":0.02},{"t":25.48,"v":0.3},{"t":25.54,"v":0.19},{"t":25.64,"v":0.22},{"t":25.74,"v":0.03},
      {"t":25.90,"v":0.02},{"t":26.00,"v":0.33},{"t":26.06,"v":0.21},{"t":26.16,"v":0.24},{"t":26.26,"v":0.02},
      {"t":26.42,"v":0.02},{"t":26.52,"v":0.32},{"t":26.58,"v":0.2},{"t":26.68,"v":0.23},{"t":26.78,"v":0.02},
      {"t":26.94,"v":0.02},{"t":27.04,"v":0.34},{"t":27.10,"v":0.21},{"t":27.20,"v":0.22},{"t":27.30,"v":0.03},
      {"t":27.46,"v":0.02},{"t":27.56,"v":0.3},{"t":27.62,"v":0.18},{"t":27.72,"v":0.2},{"t":27.82,"v":0.02},
      {"t":27.98,"v":0.02},{"t":28.08,"v":0.33},{"t":28.14,"v":0.2},{"t":28.24,"v":0.22},{"t":28.34,"v":0.02},
      {"t":28.50,"v":0.02},{"t":28.60,"v":0.31},{"t":28.66,"v":0.18},{"t":28.76,"v":0.21},{"t":28.86,"v":0.03},
      {"t":29.02,"v":0.02},{"t":29.12,"v":0.34},{"t":29.18,"v":0.2},{"t":29.28,"v":0.22},{"t":29.38,"v":0.02},
      {"t":29.54,"v":0.02},{"t":29.64,"v":0.32},{"t":29.70,"v":0.19},{"t":29.80,"v":0.22},{"t":29.90,"v":0.04},{"t":30.00,"v":0.05}
    ],
    "aero": [
      {"t":0.00,"v":0.0},{"t":0.10,"v":0.12},{"t":0.15,"v":0.02},{"t":0.30,"v":0.2},{"t":0.35,"v":0.03},{"t":0.50,"v":0.1},{"t":0.55,"v":0.02},{"t":0.90,"v":0.15},{"t":0.95,"v":0.02},{"t":1.05,"v":0.25},{"t":1.10,"v":0.02},{"t":1.30,"v":0.02},{"t":3.0,"v":0.03},{"t":6.0,"v":0.02},{"t":10.0,"v":0.04},{"t":15.0,"v":0.02},{"t":20.0,"v":0.03},{"t":25.0,"v":0.02},{"t":30.0,"v":0.03}
    ]
  },
  "encoding": {
    "x": {"field": "t", "type": "quantitative", "scale": {"domain": [0, 30], "nice": false}, "axis": {"values": [0, 5, 10, 15, 20, 25, 30], "title": "t/Tₒᵣᵦᵢₜ (-)"}},
    "y": {"field": "v", "type": "quantitative", "scale": {"domain": [0, 9], "nice": false}, "axis": {"values": [0, 1, 2, 3, 4, 5, 6, 7, 8, 9], "title": "Torque (A.m²)"}}
  },
  "layer": [
    {"data": {"name": "mag"}, "mark": {"type": "line", "strokeWidth": 1.1, "clip": true}, "encoding": {"color": {"datum": "Magnetic", "type": "nominal", "scale": {"domain": ["Magnetic", "Solar radiation pressure", "Aerodynamic pressure", "Gravity gradient"], "range": ["#0072BD", "#D95319", "#EDB120", "#7E2F8E"]}, "legend": {"orient": "top-right", "offset": 10, "title": null}}}},
    {"data": {"name": "grav"}, "mark": {"type": "line", "strokeWidth": 1.1, "clip": true}, "encoding": {"color": {"datum": "Gravity gradient", "type": "nominal"}}},
    {"data": {"name": "solar"}, "mark": {"type": "line", "strokeWidth": 1.1, "clip": true}, "encoding": {"color": {"datum": "Solar radiation pressure", "type": "nominal"}}},
    {"data": {"name": "aero"}, "mark": {"type": "line", "strokeWidth": 1.1, "clip": true}, "encoding": {"color": {"datum": "Aerodynamic pressure", "type": "nominal"}}}
  ],
  "config": {
    "font": "Liberation Sans",
    "view": {"stroke": null},
    "axis": {
      "grid": true, "gridColor": "#dedede", "gridWidth": 1,
      "domainColor": "#262626", "domainWidth": 1,
      "tickColor": "#262626", "tickSize": -5, "labelPadding": 15,
      "labelFont": "Liberation Sans", "labelFontSize": 15, "labelColor": "#262626",
      "titleFont": "Liberation Sans", "titleFontSize": 16, "titleFontWeight": "normal", "titleColor": "#262626"
    },
    "axisX": {"titlePadding": 6},
    "axisY": {"titlePadding": 4},
    "legend": {
      "fillColor": "white", "strokeColor": "#262626", "padding": 5,
      "symbolType": "M-3.2,0H3.2", "symbolSize": 196, "symbolStrokeWidth": 2.5, "symbolOffset": 14.5, "labelOffset": 18.5,
      "rowPadding": 3,
      "labelFont": "Liberation Sans", "labelFontSize": 14.4, "labelColor": "#000000", "labelLimit": 300
    }
  }
}
